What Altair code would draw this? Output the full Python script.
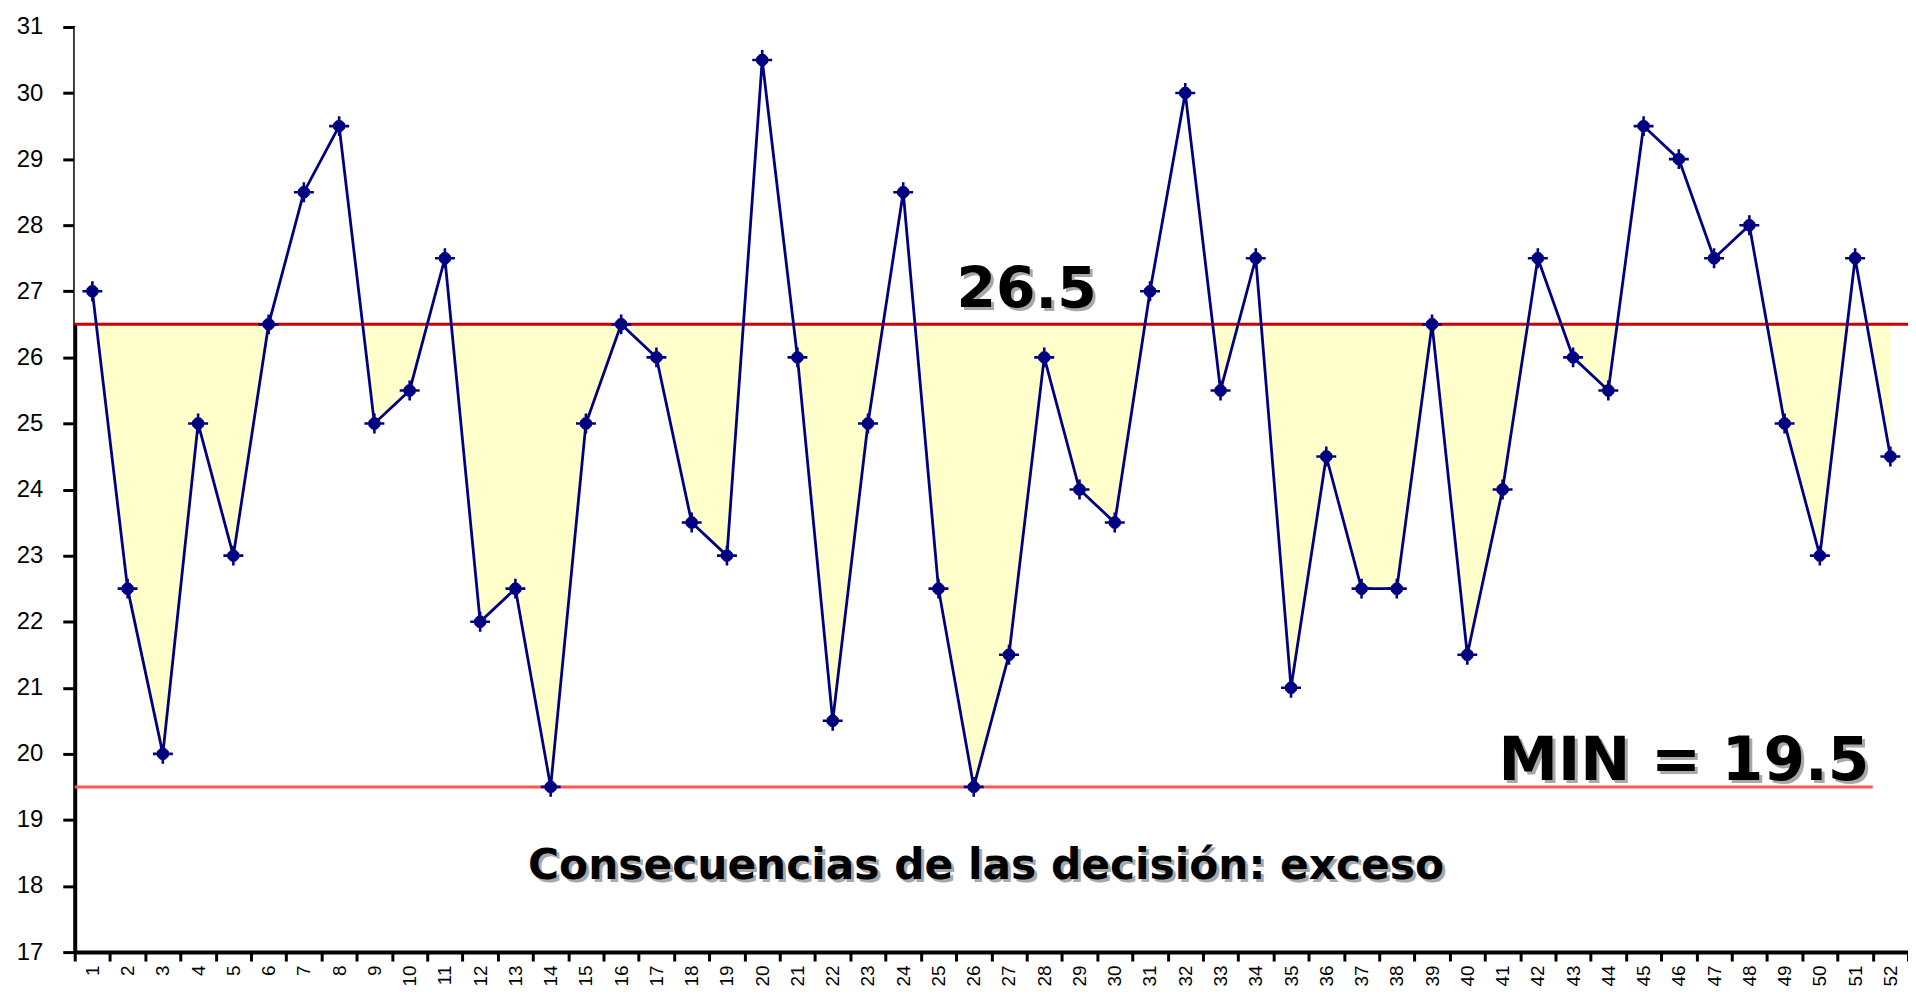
import altair as alt
import pandas as pd

periods = list(range(1, 53))
values = [27, 22.5, 20, 25, 23, 26.5, 28.5, 29.5, 25, 25.5,
          27.5, 22, 22.5, 19.5, 25, 26.5, 26, 23.5, 23, 30.5,
          26, 20.5, 25, 28.5, 22.5, 19.5, 21.5, 26, 24, 23.5,
          27, 30, 25.5, 27.5, 21, 24.5, 22.5, 22.5, 26.5, 21.5,
          24, 27.5, 26, 25.5, 29.5, 29, 27.5, 28, 25, 23,
          27.5, 24.5]
threshold = 26.5
minimum = 19.5
y_min, y_max = 17, 31
y_ticks = list(range(y_min, y_max + 1))

df = pd.DataFrame({"p": periods, "v": values})

NAVY = "#000080"
STAR = ("M-0.25,-0.6 L0.25,-0.6 L0.6,-0.25 L0.6,0.25 L0.25,0.6 L-0.25,0.6 "
        "L-0.6,0.25 L-0.6,-0.25 Z "
        "M-1,-0.13 L1,-0.13 L1,0.13 L-1,0.13 Z "
        "M-0.13,-1 L0.13,-1 L0.13,1 L-0.13,1 Z")

xscale = alt.Scale(paddingInner=0, paddingOuter=0)
yscale = alt.Scale(domain=[y_min, y_max], nice=False, zero=False)

x_enc = alt.X("p:O", scale=xscale, sort=periods, title=None,
              axis=alt.Axis(labelAngle=270, tickBand="extent", tickSize=9,
                            tickWidth=3, tickColor="black", domainWidth=4,
                            domainColor="black", labelFont="Liberation Sans",
                            labelFontSize=19, labelColor="black", labelPadding=4,
                            grid=False))
y_enc = alt.Y("v:Q", scale=yscale, title=None,
              axis=alt.Axis(values=y_ticks, format="d", tickSize=12, tickWidth=3,
                            tickColor="black", domainWidth=4, domainColor="black",
                            labelFont="Liberation Sans", labelFontSize=24,
                            labelColor="black", labelPadding=20, grid=False))

base = alt.Chart(df)

# yellow band between the series and the threshold
area = base.transform_calculate(top=f"{threshold}").mark_area(
    color="#ffffcc", opacity=1
).encode(
    x=x_enc,
    y=alt.Y("v:Q", scale=yscale),
    y2=alt.Y2("top:Q"),
)

# keep the yellow only below the threshold
mask = alt.Chart(pd.DataFrame({"a": [y_max], "b": [threshold]})).mark_rect(
    color="white", opacity=1
).encode(y=alt.Y("a:Q", scale=yscale), y2=alt.Y2("b:Q"))

top_rule = alt.Chart(pd.DataFrame({"t": [threshold]})).mark_rule(
    color="#cc0000", strokeWidth=3
).encode(y=alt.Y("t:Q", scale=yscale))

min_rule = alt.Chart(pd.DataFrame({"t": [minimum]})).mark_rule(
    color="#ff5555", strokeWidth=3
).encode(
    y=alt.Y("t:Q", scale=yscale),
    x=alt.datum(1, type="ordinal", bandPosition=0),
    x2=alt.datum(52, bandPosition=0),
)

line = base.mark_line(color=NAVY, strokeWidth=2.8).encode(x=x_enc, y=y_enc)
pts = base.mark_point(shape=STAR, size=400, filled=True, color=NAVY,
                      opacity=1).encode(x=x_enc, y=y_enc)


def label(text, xd, bp, yd, size, align):
    d = pd.DataFrame({"t": [text]})
    common = dict(font="DejaVu Sans", fontWeight="bold", fontSize=size,
                  align=align, baseline="alphabetic")
    enc = dict(x=alt.datum(xd, type="ordinal", bandPosition=bp),
               y=alt.datum(yd, type="quantitative"), text="t:N")
    shadow = alt.Chart(d).mark_text(color="#a8a8a8", dx=3, dy=3, **common).encode(**enc)
    front = alt.Chart(d).mark_text(color="black", **common).encode(**enc)
    return shadow + front


t1 = label("26.5", 27, 1.0, 26.75, 57, "center")
t2 = label("MIN = 19.5", 51, 0.9, 19.6, 60, "right")
t3 = label("Consecuencias de las decisión: exceso", 26, 0.85, 18.1, 42.5, "center")

chart = alt.layer(area, mask, top_rule, min_rule, line, pts, t1, t2, t3).properties(
    width=1841, height=929,
    autosize=alt.AutoSizeParams(type="none"),
    padding={"left": 67, "top": 17, "right": 0, "bottom": 36},
).configure_view(stroke="transparent", strokeWidth=0).configure(background="white")

chart.save("out.html", embed_options={"renderer": "svg", "actions": False})
